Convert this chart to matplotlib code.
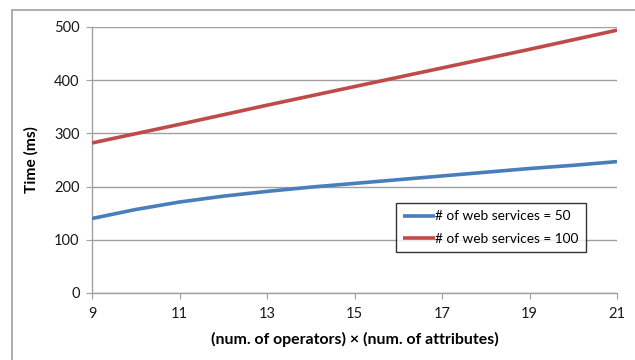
import numpy as np
import matplotlib.pyplot as plt
from matplotlib.patches import Rectangle

plt.rcParams['font.family'] = ['Lato', 'DejaVu Sans']

# Tamaño del problema (eje x)
x = [9, 10, 11, 12, 13, 14, 15, 16, 17, 18, 19, 20, 21]
# Tiempos con 50 servicios web (ms)
t50 = [140, 157, 171, 182, 191, 199, 206, 213, 220, 227, 234, 240, 247]

x100 = [9, 11, 13, 15, 17, 19, 21]
# Tiempos con 100 servicios web (ms)
t100 = [282, 317, 353, 388, 423, 458, 494]

xticks = [9, 11, 13, 15, 17, 19, 21]
yticks = [0, 100, 200, 300, 400, 500]

gris = '#a0a0a0'

fig = plt.figure(figsize=(6.35, 3.6), dpi=100)
ax = fig.add_axes([92/635, 1-293/360, 525/635, 266/360])

# Marco exterior del gráfico
fig.patches.append(Rectangle((12/635, -0.1), 1.0, 1-10/360+0.1, transform=fig.transFigure,
                             fill=False, edgecolor=gris, linewidth=1.2))

ax.plot(x, t50, color='#4a7ebb', linewidth=2.6, solid_capstyle='butt',
        label='# of web services = 50', zorder=3)
ax.plot(x100, t100, color='#be4b48', linewidth=2.6, solid_capstyle='butt',
        label='# of web services = 100', zorder=3)

ax.set_xlim(9, 21)
ax.set_ylim(0, 500)
ax.set_xticks(xticks)
ax.set_yticks(yticks)
ax.grid(axis='y', color=gris, linewidth=1.0)
ax.set_axisbelow(True)

for s in ['top', 'right']:
    ax.spines[s].set_visible(False)
for s in ['left', 'bottom']:
    ax.spines[s].set_color(gris)
    ax.spines[s].set_linewidth(1.0)

ax.tick_params(axis='both', direction='out', length=4, color=gris, labelsize=10.5,
               labelcolor='#1a1a1a')
ax.tick_params(axis='x', pad=6)
ax.tick_params(axis='y', pad=5)

ax.set_xlabel('(num. of operators) \u00d7 (num. of attributes)', fontsize=11.4,
              fontweight='bold', labelpad=8)
ax.set_ylabel('Time (ms)', fontsize=11.2, fontweight='bold', labelpad=11)

leg = ax.legend(loc='upper left', bbox_to_anchor=(304/525, (293-203)/266),
                fontsize=9.8, frameon=True, fancybox=False, edgecolor='black',
                handlelength=2.3, handletextpad=0.0, borderpad=0.55, labelspacing=0.75,
                borderaxespad=0)
leg.get_frame().set_linewidth(1.0)

plt.savefig('out.png', dpi=100)
